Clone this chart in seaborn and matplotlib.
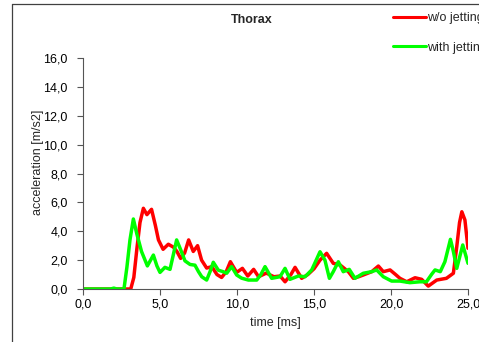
import numpy as np
import pandas as pd
import matplotlib
matplotlib.use("Agg")
import matplotlib.pyplot as plt
from matplotlib.lines import Line2D
from matplotlib.ticker import FuncFormatter, MultipleLocator
import seaborn as sns

# --- data ---
t_wo = [0, 2.9, 3.1, 3.3, 3.5, 3.7, 3.92, 4.15, 4.45, 4.7, 4.9, 5.2, 5.54, 5.87, 6.1,
        6.34, 6.6, 6.86, 7.16, 7.44, 7.7, 8.03, 8.36, 8.7, 9.0, 9.3, 9.57, 9.98, 10.35,
        10.7, 11.08, 11.4, 11.9, 12.4, 12.8, 13.12, 13.5, 13.77, 14.2, 14.6, 15.0, 15.39,
        15.82, 16.25, 16.7, 17.23, 17.56, 17.9, 18.2, 18.75, 19.18, 19.5, 19.94, 20.3,
        20.58, 21.02, 21.56, 21.99, 22.42, 22.97, 23.6, 24.05, 24.27, 24.45, 24.6, 24.8, 25.0]
a_wo = [0, 0, 0, 0.8, 2.8, 4.6, 5.59, 5.15, 5.52, 4.4, 3.4, 2.75, 3.1, 2.9, 2.6,
        2.12, 2.5, 3.4, 2.6, 3.0, 2.0, 1.45, 1.55, 1.0, 0.8, 1.2, 1.89, 1.15, 1.43,
        0.9, 1.36, 0.85, 1.1, 0.85, 0.9, 0.5, 1.0, 1.5, 0.74, 1.0, 1.4, 2.0,
        2.47, 1.78, 1.66, 1.2, 0.74, 0.85, 0.97, 1.2, 1.59, 1.2, 1.32, 1.0,
        0.74, 0.5, 0.78, 0.67, 0.2, 0.62, 0.74, 1.09, 2.93, 4.6, 5.35, 4.78, 2.82]

t_w = [0, 1.8, 2.0, 2.2, 2.66, 2.85, 3.05, 3.27, 3.5, 3.8, 4.18, 4.57, 4.8, 5.0, 5.32,
       5.65, 5.85, 6.08, 6.35, 6.62, 6.95, 7.27, 7.5, 7.71, 8.03, 8.25, 8.46, 8.79, 9.1,
       9.33, 9.65, 9.98, 10.3, 10.74, 11.28, 11.55, 11.82, 12.25, 12.79, 13.12, 13.44,
       13.98, 14.42, 14.85, 15.1, 15.39, 15.71, 16.0, 16.25, 16.58, 16.9, 17.29, 17.66,
       18.2, 18.75, 19.07, 19.5, 20.04, 20.58, 21.23, 21.88, 22.3, 22.64, 22.86, 23.2,
       23.5, 23.86, 24.05, 24.27, 24.66, 25.0]
a_w = [0, 0, 0.06, 0, 0, 1.5, 3.4, 4.85, 3.8, 2.6, 1.6, 2.35, 1.6, 1.15, 1.5,
       1.36, 2.3, 3.4, 2.7, 1.95, 1.7, 1.65, 1.2, 0.85, 0.62, 1.2, 1.85, 1.3, 1.2,
       1.09, 1.55, 0.97, 0.75, 0.62, 0.62, 1.0, 1.55, 0.74, 0.85, 1.43, 0.67,
       0.9, 0.85, 1.32, 1.9, 2.58, 2.0, 0.74, 1.2, 1.89, 1.2, 1.36, 0.74,
       1.09, 1.2, 1.32, 0.85, 0.55, 0.55, 0.44, 0.5, 0.5, 1.02, 1.32, 1.2,
       1.89, 3.44, 2.6, 1.43, 3.05, 1.78]

series_names = ["w/o jetting", "with jetting"]
title = "Thorax"
x_label = "time [ms]"
y_label = "acceleration [m/s2]"

df = pd.concat([
    pd.DataFrame({"t": t_wo, "a": a_wo, "s": series_names[0]}),
    pd.DataFrame({"t": t_w, "a": a_w, "s": series_names[1]}),
], ignore_index=True)

sns.set_theme(style="white")
plt.rcParams["font.family"] = ["Liberation Sans", "DejaVu Sans"]

W, H = 479, 342
fig = plt.figure(figsize=(W / 100, H / 100), dpi=100)
ax = fig.add_axes([83 / W, 1 - 289 / H, (468 - 83) / W, (289 - 58) / H])

sns.lineplot(data=df, x="t", y="a", hue="s", palette=["#ff0000", "#00ff00"],
             estimator=None, sort=False, linewidth=2.5, ax=ax, legend=True)
for ln in ax.get_lines():
    ln.set_solid_joinstyle("round")
    ln.set_solid_capstyle("round")

ax.set_xlim(0, 25)
ax.set_ylim(0, 16)
ax.xaxis.set_major_locator(MultipleLocator(5))
ax.yaxis.set_major_locator(MultipleLocator(2))
fmt = FuncFormatter(lambda v, p: f"{v:.1f}".replace(".", ","))
ax.xaxis.set_major_formatter(fmt)
ax.yaxis.set_major_formatter(fmt)
ax.tick_params(axis="both", which="major", direction="out", length=4, width=0.8,
               color="#555555", labelsize=9, labelcolor="black",
               bottom=True, left=True)
ax.tick_params(axis="y", pad=7)
ax.tick_params(axis="x", pad=2.5)
for side in ["top", "right"]:
    ax.spines[side].set_visible(False)
for side in ["left", "bottom"]:
    ax.spines[side].set_color("#555555")
    ax.spines[side].set_linewidth(0.8)
ax.grid(False)

ax.set_xlabel(x_label, fontsize=9, va="center")
ax.set_ylabel(y_label, fontsize=9, va="center")
ax.xaxis.set_label_coords(0.5, -(323 - 289) / (289 - 58))
ax.yaxis.set_label_coords(-(83 - 38) / (468 - 83), (289 - 162) / (289 - 58))

fig.text(252 / W, 1 - 20 / H, title, fontsize=9, fontweight="bold",
         ha="center", va="center")

handles, labels = ax.get_legend_handles_labels()
ax.get_legend().remove()
leg = fig.legend(handles, labels, loc="upper left", bbox_to_anchor=(393 / W, 1 - 12 / H),
                 frameon=False, fontsize=9, handlelength=2.6, handletextpad=0.1,
                 labelspacing=1.4, borderpad=0, borderaxespad=0)
for h in leg.legend_handles:
    h.set_linewidth(2.2)

border_kw = dict(color="#404040", linewidth=0.9, transform=fig.transFigure)
fig.add_artist(Line2D([11.5 / W, 11.5 / W], [0, 1 - 4 / H], **border_kw))
fig.add_artist(Line2D([11.5 / W, 1], [1 - 4 / H, 1 - 4 / H], **border_kw))

fig.savefig("out.png", dpi=100)
